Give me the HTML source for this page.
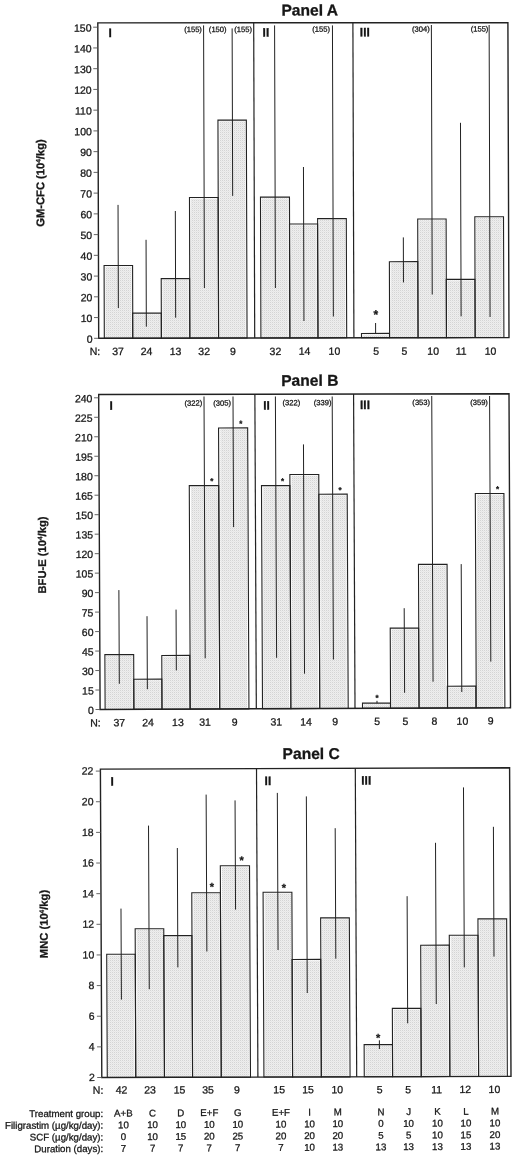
<!DOCTYPE html>
<html lang="en">
<head>
<meta charset="utf-8">
<title>Panels A, B, C</title>
<style>
html,body{margin:0;padding:0;background:#fff;}
body{width:520px;height:1161px;overflow:hidden;}
svg{display:block;}
text{font-family:"Liberation Sans",Arial,Helvetica,sans-serif;fill:#161616;stroke:#161616;stroke-width:0.28;}
</style>
</head>
<body>
<svg width="520" height="1161" viewBox="0 0 520 1161">
<defs>
<pattern id="stip" width="2" height="2" patternUnits="userSpaceOnUse">
<rect width="2" height="2" fill="#eeeeee"/>
<rect width="1" height="1" fill="#d4d4d4"/>
<rect x="1" y="1" width="1" height="1" fill="#e6e6e6"/>
</pattern>
</defs>
<rect width="520" height="1161" fill="#ffffff"/>
<rect x="105.4" y="266.66" width="26.1" height="71.3" fill="url(#stip)"/>
<polygon points="104.08,265.49 132.58,265.44 132.82,338.23 104.32,338.29" fill="none" stroke="#222222" stroke-width="1.1"/>
<rect x="133.9" y="314.31" width="26.2" height="23.6" fill="url(#stip)"/>
<polygon points="132.66,313.14 161.26,313.08 161.34,338.18 132.74,338.23" fill="none" stroke="#222222" stroke-width="1.1"/>
<rect x="162.5" y="279.83" width="26" height="58.02" fill="url(#stip)"/>
<polygon points="161.21,278.65 189.61,278.6 189.79,338.12 161.39,338.18" fill="none" stroke="#222222" stroke-width="1.1"/>
<rect x="190.9" y="198.68" width="26.2" height="139.12" fill="url(#stip)"/>
<polygon points="189.48,197.51 218.08,197.45 218.52,338.07 189.92,338.12" fill="none" stroke="#222222" stroke-width="1.1"/>
<rect x="219.5" y="121.26" width="26" height="216.48" fill="url(#stip)"/>
<polygon points="217.95,120.09 246.35,120.03 247.05,338.01 218.65,338.07" fill="none" stroke="#222222" stroke-width="1.1"/>
<rect x="261.9" y="198.33" width="26.6" height="139.32" fill="url(#stip)"/>
<polygon points="260.48,197.16 289.48,197.1 289.92,337.93 260.92,337.98" fill="none" stroke="#222222" stroke-width="1.1"/>
<rect x="290.9" y="225.24" width="25.7" height="112.36" fill="url(#stip)"/>
<polygon points="289.52,224.06 317.62,224.01 317.98,337.87 289.88,337.93" fill="none" stroke="#222222" stroke-width="1.1"/>
<rect x="319" y="219.79" width="26.3" height="117.75" fill="url(#stip)"/>
<polygon points="317.61,218.62 346.31,218.56 346.69,337.82 317.99,337.87" fill="none" stroke="#222222" stroke-width="1.1"/>
<rect x="362.7" y="334.6" width="25.6" height="2.86" fill="url(#stip)"/>
<polygon points="361.49,333.43 389.49,333.38 389.51,337.73 361.51,337.79" fill="none" stroke="#222222" stroke-width="1.1"/>
<rect x="390.7" y="262.87" width="26" height="74.53" fill="url(#stip)"/>
<polygon points="389.38,261.7 417.78,261.64 418.02,337.68 389.62,337.73" fill="none" stroke="#222222" stroke-width="1.1"/>
<rect x="419.1" y="220.22" width="26" height="117.13" fill="url(#stip)"/>
<polygon points="417.71,219.04 446.11,218.99 446.49,337.62 418.09,337.68" fill="none" stroke="#222222" stroke-width="1.1"/>
<rect x="447.5" y="280.51" width="26.3" height="56.78" fill="url(#stip)"/>
<polygon points="446.21,279.34 474.91,279.29 475.09,337.57 446.39,337.62" fill="none" stroke="#222222" stroke-width="1.1"/>
<rect x="476.2" y="217.93" width="26.3" height="119.31" fill="url(#stip)"/>
<polygon points="474.81,216.76 503.51,216.7 503.89,337.51 475.19,337.57" fill="none" stroke="#222222" stroke-width="1.1"/>
<line x1="118.04" y1="204.9" x2="118.36" y2="308" stroke="#222222" stroke-width="1"/>
<line x1="146.06" y1="239.8" x2="146.34" y2="326.7" stroke="#222222" stroke-width="1"/>
<line x1="175.33" y1="211" x2="175.67" y2="317.7" stroke="#222222" stroke-width="1"/>
<line x1="203.58" y1="25.4" x2="204.42" y2="288" stroke="#222222" stroke-width="1"/>
<line x1="232.13" y1="28.4" x2="232.67" y2="195.9" stroke="#222222" stroke-width="1"/>
<line x1="274.58" y1="25.4" x2="275.42" y2="288" stroke="#222222" stroke-width="1"/>
<line x1="303.46" y1="167" x2="303.94" y2="321" stroke="#222222" stroke-width="1"/>
<line x1="332.44" y1="25.4" x2="333.36" y2="316.5" stroke="#222222" stroke-width="1"/>
<line x1="375.58" y1="323" x2="375.62" y2="333.5" stroke="#222222" stroke-width="1"/>
<line x1="403.33" y1="237.4" x2="403.47" y2="282.4" stroke="#222222" stroke-width="1"/>
<line x1="431.37" y1="25" x2="432.23" y2="294.5" stroke="#222222" stroke-width="1"/>
<line x1="460.49" y1="122.8" x2="461.11" y2="316.3" stroke="#222222" stroke-width="1"/>
<line x1="489.14" y1="25" x2="490.06" y2="317" stroke="#222222" stroke-width="1"/>
<line x1="253.7" y1="22.82" x2="254.7" y2="338" stroke="#222222" stroke-width="1.2"/>
<line x1="352.9" y1="22.78" x2="353.9" y2="337.8" stroke="#222222" stroke-width="1.2"/>
<polygon points="97.8,22.9 507.9,22.7 509,337.5 98.7,338.3" fill="none" stroke="#222222" stroke-width="1.4"/>
<line x1="94.1" y1="338.3" x2="98.7" y2="338.3" stroke="#555" stroke-width="0.9"/>
<line x1="94.03" y1="317.56" x2="98.63" y2="317.56" stroke="#555" stroke-width="0.9"/>
<line x1="93.97" y1="296.82" x2="98.57" y2="296.82" stroke="#555" stroke-width="0.9"/>
<line x1="93.9" y1="276.08" x2="98.5" y2="276.08" stroke="#555" stroke-width="0.9"/>
<line x1="93.84" y1="255.34" x2="98.44" y2="255.34" stroke="#555" stroke-width="0.9"/>
<line x1="93.77" y1="234.6" x2="98.37" y2="234.6" stroke="#555" stroke-width="0.9"/>
<line x1="93.71" y1="213.86" x2="98.31" y2="213.86" stroke="#555" stroke-width="0.9"/>
<line x1="93.64" y1="193.12" x2="98.24" y2="193.12" stroke="#555" stroke-width="0.9"/>
<line x1="93.57" y1="172.38" x2="98.17" y2="172.38" stroke="#555" stroke-width="0.9"/>
<line x1="93.51" y1="151.64" x2="98.11" y2="151.64" stroke="#555" stroke-width="0.9"/>
<line x1="93.44" y1="130.9" x2="98.04" y2="130.9" stroke="#555" stroke-width="0.9"/>
<line x1="93.38" y1="110.16" x2="97.98" y2="110.16" stroke="#555" stroke-width="0.9"/>
<line x1="93.31" y1="89.42" x2="97.91" y2="89.42" stroke="#555" stroke-width="0.9"/>
<line x1="93.24" y1="68.68" x2="97.84" y2="68.68" stroke="#555" stroke-width="0.9"/>
<line x1="93.18" y1="47.94" x2="97.78" y2="47.94" stroke="#555" stroke-width="0.9"/>
<line x1="93.11" y1="27.2" x2="97.71" y2="27.2" stroke="#555" stroke-width="0.9"/>
<rect x="106.2" y="655.81" width="26.4" height="53.31" fill="url(#stip)"/>
<polygon points="104.87,654.67 133.67,654.55 133.93,709.35 105.13,709.48" fill="none" stroke="#222222" stroke-width="1.1"/>
<rect x="135" y="680.36" width="25.7" height="28.63" fill="url(#stip)"/>
<polygon points="133.73,679.22 161.83,679.1 161.97,709.23 133.87,709.35" fill="none" stroke="#222222" stroke-width="1.1"/>
<rect x="163.1" y="656.6" width="25.5" height="52.27" fill="url(#stip)"/>
<polygon points="161.78,655.46 189.68,655.34 189.92,709.11 162.02,709.23" fill="none" stroke="#222222" stroke-width="1.1"/>
<rect x="191" y="486.8" width="27" height="221.94" fill="url(#stip)"/>
<polygon points="189.28,485.67 218.68,485.54 219.72,708.98 190.32,709.11" fill="none" stroke="#222222" stroke-width="1.1"/>
<rect x="220.4" y="429.08" width="26.7" height="279.54" fill="url(#stip)"/>
<polygon points="218.55,427.94 247.65,427.81 248.95,708.85 219.85,708.98" fill="none" stroke="#222222" stroke-width="1.1"/>
<rect x="263.2" y="486.81" width="26" height="221.62" fill="url(#stip)"/>
<polygon points="261.49,485.67 289.89,485.55 290.91,708.67 262.51,708.79" fill="none" stroke="#222222" stroke-width="1.1"/>
<rect x="291.6" y="475.7" width="26.5" height="232.6" fill="url(#stip)"/>
<polygon points="289.86,474.56 318.76,474.43 319.84,708.54 290.94,708.67" fill="none" stroke="#222222" stroke-width="1.1"/>
<rect x="320.5" y="495.39" width="26" height="212.79" fill="url(#stip)"/>
<polygon points="318.81,494.25 347.21,494.13 348.19,708.41 319.79,708.54" fill="none" stroke="#222222" stroke-width="1.1"/>
<rect x="363.7" y="704.29" width="25.5" height="3.69" fill="url(#stip)"/>
<polygon points="362.49,703.15 390.39,703.03 390.41,708.23 362.51,708.35" fill="none" stroke="#222222" stroke-width="1.1"/>
<rect x="391.6" y="629.23" width="26" height="78.63" fill="url(#stip)"/>
<polygon points="390.22,628.1 418.62,627.97 418.98,708.1 390.58,708.23" fill="none" stroke="#222222" stroke-width="1.1"/>
<rect x="420" y="565.47" width="26.2" height="142.27" fill="url(#stip)"/>
<polygon points="418.47,564.34 447.07,564.21 447.73,707.98 419.13,708.1" fill="none" stroke="#222222" stroke-width="1.1"/>
<rect x="448.6" y="687.43" width="26" height="20.19" fill="url(#stip)"/>
<polygon points="447.35,686.29 475.75,686.16 475.85,707.85 447.45,707.98" fill="none" stroke="#222222" stroke-width="1.1"/>
<rect x="477" y="494.7" width="26.2" height="212.79" fill="url(#stip)"/>
<polygon points="475.31,493.57 503.91,493.44 504.89,707.73 476.29,707.85" fill="none" stroke="#222222" stroke-width="1.1"/>
<line x1="118.88" y1="590.1" x2="119.32" y2="683.8" stroke="#222222" stroke-width="1"/>
<line x1="147.03" y1="616.2" x2="147.37" y2="689.2" stroke="#222222" stroke-width="1"/>
<line x1="176.06" y1="609.6" x2="176.34" y2="670.4" stroke="#222222" stroke-width="1"/>
<line x1="204" y1="396.5" x2="205.2" y2="658.3" stroke="#222222" stroke-width="1"/>
<line x1="233" y1="396.5" x2="233.6" y2="527.1" stroke="#222222" stroke-width="1"/>
<line x1="275.4" y1="396.5" x2="276.6" y2="657.8" stroke="#222222" stroke-width="1"/>
<line x1="303.47" y1="444.4" x2="304.53" y2="673.7" stroke="#222222" stroke-width="1"/>
<line x1="332.19" y1="396.5" x2="333.41" y2="659.5" stroke="#222222" stroke-width="1"/>
<line x1="376.99" y1="700.8" x2="377.01" y2="703.2" stroke="#222222" stroke-width="1"/>
<line x1="404.2" y1="608.2" x2="404.6" y2="692.8" stroke="#222222" stroke-width="1"/>
<line x1="431.74" y1="396" x2="433.06" y2="681.7" stroke="#222222" stroke-width="1"/>
<line x1="461.21" y1="564.1" x2="461.79" y2="692" stroke="#222222" stroke-width="1"/>
<line x1="489.59" y1="396" x2="490.81" y2="661.6" stroke="#222222" stroke-width="1"/>
<line x1="254.87" y1="394.19" x2="256.33" y2="708.82" stroke="#222222" stroke-width="1.2"/>
<line x1="353.58" y1="394" x2="355.02" y2="708.39" stroke="#222222" stroke-width="1.2"/>
<polygon points="98.7,394.5 509,393.7 510.5,707.7 100.1,709.5" fill="none" stroke="#222222" stroke-width="1.4"/>
<line x1="95.5" y1="709.5" x2="100.1" y2="709.5" stroke="#555" stroke-width="0.9"/>
<line x1="95.41" y1="690.02" x2="100.01" y2="690.02" stroke="#555" stroke-width="0.9"/>
<line x1="95.32" y1="670.54" x2="99.92" y2="670.54" stroke="#555" stroke-width="0.9"/>
<line x1="95.23" y1="651.06" x2="99.83" y2="651.06" stroke="#555" stroke-width="0.9"/>
<line x1="95.14" y1="631.58" x2="99.74" y2="631.58" stroke="#555" stroke-width="0.9"/>
<line x1="95.05" y1="612.1" x2="99.65" y2="612.1" stroke="#555" stroke-width="0.9"/>
<line x1="94.96" y1="592.62" x2="99.56" y2="592.62" stroke="#555" stroke-width="0.9"/>
<line x1="94.87" y1="573.14" x2="99.47" y2="573.14" stroke="#555" stroke-width="0.9"/>
<line x1="94.78" y1="553.66" x2="99.38" y2="553.66" stroke="#555" stroke-width="0.9"/>
<line x1="94.69" y1="534.18" x2="99.29" y2="534.18" stroke="#555" stroke-width="0.9"/>
<line x1="94.6" y1="514.69" x2="99.2" y2="514.69" stroke="#555" stroke-width="0.9"/>
<line x1="94.51" y1="495.21" x2="99.11" y2="495.21" stroke="#555" stroke-width="0.9"/>
<line x1="94.42" y1="475.73" x2="99.02" y2="475.73" stroke="#555" stroke-width="0.9"/>
<line x1="94.33" y1="456.25" x2="98.93" y2="456.25" stroke="#555" stroke-width="0.9"/>
<line x1="94.24" y1="436.77" x2="98.84" y2="436.77" stroke="#555" stroke-width="0.9"/>
<line x1="94.15" y1="417.29" x2="98.75" y2="417.29" stroke="#555" stroke-width="0.9"/>
<line x1="94.06" y1="397.81" x2="98.66" y2="397.81" stroke="#555" stroke-width="0.9"/>
<rect x="108.2" y="955.47" width="26.1" height="121.67" fill="url(#stip)"/>
<polygon points="106.72,954.31 135.22,954.24 135.78,1077.41 107.28,1077.49" fill="none" stroke="#222222" stroke-width="1.1"/>
<rect x="136.7" y="929.97" width="26.2" height="147.1" fill="url(#stip)"/>
<polygon points="135.16,928.81 163.76,928.73 164.44,1077.33 135.84,1077.41" fill="none" stroke="#222222" stroke-width="1.1"/>
<rect x="165.3" y="936.78" width="25.7" height="140.21" fill="url(#stip)"/>
<polygon points="163.78,935.62 191.88,935.55 192.52,1077.26 164.42,1077.33" fill="none" stroke="#222222" stroke-width="1.1"/>
<rect x="193.4" y="893.97" width="26.2" height="182.95" fill="url(#stip)"/>
<polygon points="191.78,892.8 220.38,892.73 221.22,1077.18 192.62,1077.26" fill="none" stroke="#222222" stroke-width="1.1"/>
<rect x="222" y="866.92" width="26.8" height="209.92" fill="url(#stip)"/>
<polygon points="220.32,865.76 249.52,865.69 250.48,1077.1 221.28,1077.18" fill="none" stroke="#222222" stroke-width="1.1"/>
<rect x="264.7" y="893.47" width="26.4" height="183.26" fill="url(#stip)"/>
<polygon points="263.08,892.31 291.88,892.23 292.72,1076.99 263.92,1077.07" fill="none" stroke="#222222" stroke-width="1.1"/>
<rect x="293.5" y="960.64" width="26.3" height="116" fill="url(#stip)"/>
<polygon points="292.03,959.48 320.73,959.41 321.27,1076.91 292.57,1076.99" fill="none" stroke="#222222" stroke-width="1.1"/>
<rect x="322.2" y="919.05" width="26.3" height="157.52" fill="url(#stip)"/>
<polygon points="320.64,917.89 349.34,917.81 350.06,1076.83 321.36,1076.91" fill="none" stroke="#222222" stroke-width="1.1"/>
<rect x="365.4" y="1045.78" width="25.9" height="30.67" fill="url(#stip)"/>
<polygon points="364.13,1044.62 392.43,1044.55 392.57,1076.72 364.27,1076.79" fill="none" stroke="#222222" stroke-width="1.1"/>
<rect x="393.7" y="1009.55" width="26.1" height="66.83" fill="url(#stip)"/>
<polygon points="392.34,1008.39 420.84,1008.31 421.16,1076.64 392.66,1076.72" fill="none" stroke="#222222" stroke-width="1.1"/>
<rect x="422.2" y="946.36" width="26.2" height="129.95" fill="url(#stip)"/>
<polygon points="420.7,945.2 449.3,945.12 449.9,1076.57 421.3,1076.64" fill="none" stroke="#222222" stroke-width="1.1"/>
<rect x="450.8" y="936.48" width="26.3" height="139.75" fill="url(#stip)"/>
<polygon points="449.28,935.31 477.98,935.24 478.62,1076.49 449.92,1076.57" fill="none" stroke="#222222" stroke-width="1.1"/>
<rect x="479.5" y="920.01" width="26.3" height="156.14" fill="url(#stip)"/>
<polygon points="477.94,918.85 506.64,918.77 507.36,1076.41 478.66,1076.49" fill="none" stroke="#222222" stroke-width="1.1"/>
<line x1="120.99" y1="908.6" x2="121.41" y2="999.6" stroke="#222222" stroke-width="1"/>
<line x1="148.53" y1="825.6" x2="149.27" y2="989.2" stroke="#222222" stroke-width="1"/>
<line x1="177.33" y1="848" x2="177.87" y2="967.4" stroke="#222222" stroke-width="1"/>
<line x1="206.14" y1="794.6" x2="206.86" y2="951.5" stroke="#222222" stroke-width="1"/>
<line x1="235.05" y1="800.4" x2="235.55" y2="909.6" stroke="#222222" stroke-width="1"/>
<line x1="277.34" y1="792.9" x2="278.06" y2="950" stroke="#222222" stroke-width="1"/>
<line x1="306.35" y1="796.4" x2="307.25" y2="993" stroke="#222222" stroke-width="1"/>
<line x1="335.2" y1="828.2" x2="335.8" y2="958.7" stroke="#222222" stroke-width="1"/>
<line x1="379.38" y1="1040.3" x2="379.42" y2="1049" stroke="#222222" stroke-width="1"/>
<line x1="407.11" y1="896.2" x2="407.69" y2="1023.3" stroke="#222222" stroke-width="1"/>
<line x1="435.53" y1="842.8" x2="436.27" y2="1004" stroke="#222222" stroke-width="1"/>
<line x1="463.49" y1="787.4" x2="464.31" y2="967.4" stroke="#222222" stroke-width="1"/>
<line x1="493.41" y1="826.8" x2="493.99" y2="956.6" stroke="#222222" stroke-width="1"/>
<line x1="256.5" y1="768.6" x2="257.9" y2="1077.08" stroke="#222222" stroke-width="1.2"/>
<line x1="355.3" y1="768.29" x2="356.7" y2="1076.82" stroke="#222222" stroke-width="1.2"/>
<polygon points="100.4,769.1 509.6,767.8 511,1076.4 101.8,1077.5" fill="none" stroke="#222222" stroke-width="1.4"/>
<line x1="97.2" y1="1077.5" x2="101.8" y2="1077.5" stroke="#555" stroke-width="0.9"/>
<line x1="97.06" y1="1046.86" x2="101.66" y2="1046.86" stroke="#555" stroke-width="0.9"/>
<line x1="96.92" y1="1016.22" x2="101.52" y2="1016.22" stroke="#555" stroke-width="0.9"/>
<line x1="96.78" y1="985.58" x2="101.38" y2="985.58" stroke="#555" stroke-width="0.9"/>
<line x1="96.64" y1="954.94" x2="101.24" y2="954.94" stroke="#555" stroke-width="0.9"/>
<line x1="96.5" y1="924.3" x2="101.1" y2="924.3" stroke="#555" stroke-width="0.9"/>
<line x1="96.37" y1="893.66" x2="100.97" y2="893.66" stroke="#555" stroke-width="0.9"/>
<line x1="96.23" y1="863.02" x2="100.83" y2="863.02" stroke="#555" stroke-width="0.9"/>
<line x1="96.09" y1="832.38" x2="100.69" y2="832.38" stroke="#555" stroke-width="0.9"/>
<line x1="95.95" y1="801.74" x2="100.55" y2="801.74" stroke="#555" stroke-width="0.9"/>
<line x1="95.81" y1="771.1" x2="100.41" y2="771.1" stroke="#555" stroke-width="0.9"/>
<g transform="rotate(-0.16 260 580)">
<text x="311.28" y="15.64" font-size="15.6" text-anchor="middle" font-weight="bold" stroke-width="0.12">Panel A</text>
<text x="93.16" y="342.23" font-size="10.5" text-anchor="end">0</text>
<text x="93.16" y="321.49" font-size="10.5" text-anchor="end">10</text>
<text x="93.15" y="300.75" font-size="10.5" text-anchor="end">20</text>
<text x="93.14" y="280.01" font-size="10.5" text-anchor="end">30</text>
<text x="93.13" y="259.27" font-size="10.5" text-anchor="end">40</text>
<text x="93.12" y="238.53" font-size="10.5" text-anchor="end">50</text>
<text x="93.12" y="217.79" font-size="10.5" text-anchor="end">60</text>
<text x="93.11" y="197.05" font-size="10.5" text-anchor="end">70</text>
<text x="93.1" y="176.31" font-size="10.5" text-anchor="end">80</text>
<text x="93.09" y="155.57" font-size="10.5" text-anchor="end">90</text>
<text x="93.08" y="134.83" font-size="10.5" text-anchor="end">100</text>
<text x="93.08" y="114.09" font-size="10.5" text-anchor="end">110</text>
<text x="93.07" y="93.35" font-size="10.5" text-anchor="end">120</text>
<text x="93.06" y="72.61" font-size="10.5" text-anchor="end">130</text>
<text x="93.05" y="51.87" font-size="10.5" text-anchor="end">140</text>
<text x="93.04" y="31.13" font-size="10.5" text-anchor="end">150</text>
<text x="110.12" y="36.58" font-size="12" font-weight="bold" stroke-width="0.12">I</text>
<text x="264.12" y="36.61" font-size="12" font-weight="bold" stroke-width="0.12">II</text>
<text x="361.32" y="36.48" font-size="12" font-weight="bold" stroke-width="0.12">III</text>
<text x="203.43" y="31.84" font-size="7.6" text-anchor="end">(155)</text>
<text x="228.13" y="31.91" font-size="7.6" text-anchor="end">(150)</text>
<text x="253.53" y="31.98" font-size="7.6" text-anchor="end">(155)</text>
<text x="331.53" y="32" font-size="7.6" text-anchor="end">(155)</text>
<text x="431.33" y="32.08" font-size="7.6" text-anchor="end">(304)</text>
<text x="489.93" y="32.14" font-size="7.6" text-anchor="end">(155)</text>
<text x="376.53" y="318.82" font-size="12" text-anchor="middle" font-weight="bold" stroke-width="0.7">*</text>
<text x="100.83" y="354.62" font-size="10.5" text-anchor="end">N:</text>
<text x="118.73" y="354.65" font-size="10.5" text-anchor="middle">37</text>
<text x="147.23" y="354.7" font-size="10.5" text-anchor="middle">24</text>
<text x="176.13" y="354.75" font-size="10.5" text-anchor="middle">13</text>
<text x="204.83" y="354.8" font-size="10.5" text-anchor="middle">32</text>
<text x="233.63" y="354.85" font-size="10.5" text-anchor="middle">9</text>
<text x="276.03" y="354.93" font-size="10.5" text-anchor="middle">32</text>
<text x="305.13" y="354.98" font-size="10.5" text-anchor="middle">14</text>
<text x="335.03" y="355.03" font-size="10.5" text-anchor="middle">10</text>
<text x="376.83" y="355.11" font-size="10.5" text-anchor="middle">5</text>
<text x="405.13" y="355.16" font-size="10.5" text-anchor="middle">5</text>
<text x="433.83" y="355.21" font-size="10.5" text-anchor="middle">10</text>
<text x="461.83" y="355.26" font-size="10.5" text-anchor="middle">11</text>
<text x="491.13" y="355.31" font-size="10.5" text-anchor="middle">10</text>
<text transform="translate(45.31 182.4) rotate(-90)" font-size="11.2" font-weight="bold" stroke-width="0.12" text-anchor="middle">GM-CFC (10<tspan font-size="6.5" dy="-3.6">4</tspan><tspan dy="3.6">/kg)</tspan></text>
<text x="310.34" y="385.94" font-size="15.6" text-anchor="middle" font-weight="bold" stroke-width="0.12">Panel B</text>
<text x="93.53" y="713.44" font-size="10.5" text-anchor="end">0</text>
<text x="93.49" y="693.95" font-size="10.5" text-anchor="end">15</text>
<text x="93.46" y="674.47" font-size="10.5" text-anchor="end">30</text>
<text x="93.42" y="654.99" font-size="10.5" text-anchor="end">45</text>
<text x="93.39" y="635.51" font-size="10.5" text-anchor="end">60</text>
<text x="93.35" y="616.03" font-size="10.5" text-anchor="end">75</text>
<text x="93.31" y="596.55" font-size="10.5" text-anchor="end">90</text>
<text x="93.28" y="577.07" font-size="10.5" text-anchor="end">105</text>
<text x="93.24" y="557.59" font-size="10.5" text-anchor="end">120</text>
<text x="93.21" y="538.11" font-size="10.5" text-anchor="end">135</text>
<text x="93.17" y="518.63" font-size="10.5" text-anchor="end">150</text>
<text x="93.14" y="499.15" font-size="10.5" text-anchor="end">165</text>
<text x="93.1" y="479.67" font-size="10.5" text-anchor="end">180</text>
<text x="93.07" y="460.19" font-size="10.5" text-anchor="end">195</text>
<text x="93.03" y="440.71" font-size="10.5" text-anchor="end">210</text>
<text x="93" y="421.23" font-size="10.5" text-anchor="end">225</text>
<text x="92.96" y="401.74" font-size="10.5" text-anchor="end">240</text>
<text x="109.88" y="409.38" font-size="12" font-weight="bold" stroke-width="0.12">I</text>
<text x="263.78" y="409.41" font-size="12" font-weight="bold" stroke-width="0.12">II</text>
<text x="360.48" y="409.28" font-size="12" font-weight="bold" stroke-width="0.12">III</text>
<text x="202.79" y="405.44" font-size="7.6" text-anchor="end">(322)</text>
<text x="231.49" y="405.52" font-size="7.6" text-anchor="end">(305)</text>
<text x="300.79" y="405.41" font-size="7.6" text-anchor="end">(322)</text>
<text x="331.99" y="405.5" font-size="7.6" text-anchor="end">(339)</text>
<text x="430.59" y="405.48" font-size="7.6" text-anchor="end">(353)</text>
<text x="488.39" y="405.64" font-size="7.6" text-anchor="end">(359)</text>
<text x="212.17" y="483.67" font-size="8" text-anchor="middle" font-weight="bold" stroke-width="0.7">*</text>
<text x="241.23" y="426.25" font-size="8" text-anchor="middle" font-weight="bold" stroke-width="0.7">*</text>
<text x="282.87" y="483.86" font-size="8" text-anchor="middle" font-weight="bold" stroke-width="0.7">*</text>
<text x="340.24" y="493.02" font-size="8" text-anchor="middle" font-weight="bold" stroke-width="0.7">*</text>
<text x="376.66" y="700.73" font-size="8" text-anchor="middle" font-weight="bold" stroke-width="0.7">*</text>
<text x="497.75" y="492.46" font-size="8" text-anchor="middle" font-weight="bold" stroke-width="0.7">*</text>
<text x="100.29" y="725.91" font-size="10.5" text-anchor="end">N:</text>
<text x="118.89" y="725.85" font-size="10.5" text-anchor="middle">37</text>
<text x="147.59" y="725.8" font-size="10.5" text-anchor="middle">24</text>
<text x="177.49" y="725.75" font-size="10.5" text-anchor="middle">13</text>
<text x="204.59" y="725.7" font-size="10.5" text-anchor="middle">31</text>
<text x="234.19" y="725.65" font-size="10.5" text-anchor="middle">9</text>
<text x="275.89" y="725.57" font-size="10.5" text-anchor="middle">31</text>
<text x="305.59" y="725.52" font-size="10.5" text-anchor="middle">14</text>
<text x="334.79" y="725.46" font-size="10.5" text-anchor="middle">9</text>
<text x="376.79" y="725.39" font-size="10.5" text-anchor="middle">5</text>
<text x="404.99" y="725.34" font-size="10.5" text-anchor="middle">5</text>
<text x="434.09" y="725.28" font-size="10.5" text-anchor="middle">8</text>
<text x="462" y="725.23" font-size="10.5" text-anchor="middle">10</text>
<text x="490.4" y="725.18" font-size="10.5" text-anchor="middle">9</text>
<text transform="translate(46.07 554.4) rotate(-90)" font-size="11.2" font-weight="bold" stroke-width="0.12" text-anchor="middle">BFU-E (10<tspan font-size="6.5" dy="-3.6">4</tspan><tspan dy="3.6">/kg)</tspan></text>
<text x="310.7" y="759.14" font-size="15.6" text-anchor="middle" font-weight="bold" stroke-width="0.12">Panel C</text>
<text x="93.4" y="1080.54" font-size="10.5" text-anchor="end">2</text>
<text x="93.35" y="1049.9" font-size="10.5" text-anchor="end">4</text>
<text x="93.29" y="1019.26" font-size="10.5" text-anchor="end">6</text>
<text x="93.24" y="988.62" font-size="10.5" text-anchor="end">8</text>
<text x="93.19" y="957.98" font-size="10.5" text-anchor="end">10</text>
<text x="93.13" y="927.34" font-size="10.5" text-anchor="end">12</text>
<text x="93.08" y="896.7" font-size="10.5" text-anchor="end">14</text>
<text x="93.03" y="866.05" font-size="10.5" text-anchor="end">16</text>
<text x="92.97" y="835.41" font-size="10.5" text-anchor="end">18</text>
<text x="92.92" y="804.77" font-size="10.5" text-anchor="end">20</text>
<text x="92.87" y="774.13" font-size="10.5" text-anchor="end">22</text>
<text x="110.03" y="784.98" font-size="12" font-weight="bold" stroke-width="0.12">I</text>
<text x="264.03" y="785.01" font-size="12" font-weight="bold" stroke-width="0.12">II</text>
<text x="360.73" y="784.88" font-size="12" font-weight="bold" stroke-width="0.12">III</text>
<text x="211.03" y="890.36" font-size="11" text-anchor="middle" font-weight="bold" stroke-width="0.7">*</text>
<text x="240.81" y="863.95" font-size="11" text-anchor="middle" font-weight="bold" stroke-width="0.7">*</text>
<text x="283.13" y="891.57" font-size="11" text-anchor="middle" font-weight="bold" stroke-width="0.7">*</text>
<text x="376.91" y="1041.83" font-size="11" text-anchor="middle" font-weight="bold" stroke-width="0.7">*</text>
<text x="101.87" y="1093.21" font-size="10.5" text-anchor="end">N:</text>
<text x="120.07" y="1093.22" font-size="10.5" text-anchor="middle">42</text>
<text x="148.67" y="1093.26" font-size="10.5" text-anchor="middle">23</text>
<text x="178.07" y="1093.29" font-size="10.5" text-anchor="middle">15</text>
<text x="206.67" y="1093.33" font-size="10.5" text-anchor="middle">35</text>
<text x="235.47" y="1093.37" font-size="10.5" text-anchor="middle">9</text>
<text x="277.77" y="1093.42" font-size="10.5" text-anchor="middle">15</text>
<text x="306.57" y="1093.46" font-size="10.5" text-anchor="middle">15</text>
<text x="335.87" y="1093.5" font-size="10.5" text-anchor="middle">10</text>
<text x="378.37" y="1093.55" font-size="10.5" text-anchor="middle">5</text>
<text x="406.77" y="1093.59" font-size="10.5" text-anchor="middle">5</text>
<text x="435.17" y="1093.63" font-size="10.5" text-anchor="middle">11</text>
<text x="463.87" y="1093.66" font-size="10.5" text-anchor="middle">12</text>
<text x="492.97" y="1093.7" font-size="10.5" text-anchor="middle">10</text>
<text transform="translate(46.74 923.41) rotate(-90)" font-size="11.2" font-weight="bold" stroke-width="0.12" text-anchor="middle">MNC (10<tspan font-size="6.5" dy="-3.6">4</tspan><tspan dy="3.6">/kg)</tspan></text>
<text x="101.7" y="1116.46" font-size="9.7" text-anchor="end">Treatment group:</text>
<text x="121.9" y="1116.17" font-size="9.7" text-anchor="middle">A+B</text>
<text x="151.1" y="1116.09" font-size="9.7" text-anchor="middle">C</text>
<text x="179.3" y="1116.01" font-size="9.7" text-anchor="middle">D</text>
<text x="207.8" y="1115.94" font-size="9.7" text-anchor="middle">E+F</text>
<text x="236.3" y="1115.86" font-size="9.7" text-anchor="middle">G</text>
<text x="279.5" y="1115.74" font-size="9.7" text-anchor="middle">E+F</text>
<text x="308.1" y="1115.66" font-size="9.7" text-anchor="middle">I</text>
<text x="336.3" y="1115.59" font-size="9.7" text-anchor="middle">M</text>
<text x="379.51" y="1115.47" font-size="9.7" text-anchor="middle">N</text>
<text x="407.11" y="1115.4" font-size="9.7" text-anchor="middle">J</text>
<text x="436.01" y="1115.32" font-size="9.7" text-anchor="middle">K</text>
<text x="464.51" y="1115.24" font-size="9.7" text-anchor="middle">L</text>
<text x="493.51" y="1115.16" font-size="9.7" text-anchor="middle">M</text>
<text x="101.67" y="1128.16" font-size="9.7" text-anchor="end">Filigrastim (µg/kg/day):</text>
<text x="121.87" y="1127.87" font-size="9.7" text-anchor="middle">10</text>
<text x="151.07" y="1127.79" font-size="9.7" text-anchor="middle">10</text>
<text x="179.27" y="1127.71" font-size="9.7" text-anchor="middle">10</text>
<text x="207.77" y="1127.64" font-size="9.7" text-anchor="middle">10</text>
<text x="236.27" y="1127.56" font-size="9.7" text-anchor="middle">10</text>
<text x="279.47" y="1127.44" font-size="9.7" text-anchor="middle">10</text>
<text x="308.07" y="1127.36" font-size="9.7" text-anchor="middle">10</text>
<text x="336.27" y="1127.29" font-size="9.7" text-anchor="middle">10</text>
<text x="379.47" y="1127.17" font-size="9.7" text-anchor="middle">0</text>
<text x="407.07" y="1127.1" font-size="9.7" text-anchor="middle">10</text>
<text x="435.97" y="1127.02" font-size="9.7" text-anchor="middle">10</text>
<text x="464.47" y="1126.94" font-size="9.7" text-anchor="middle">10</text>
<text x="493.47" y="1126.86" font-size="9.7" text-anchor="middle">10</text>
<text x="101.64" y="1139.96" font-size="9.7" text-anchor="end">SCF (µg/kg/day):</text>
<text x="121.84" y="1139.67" font-size="9.7" text-anchor="middle">0</text>
<text x="151.04" y="1139.59" font-size="9.7" text-anchor="middle">10</text>
<text x="179.24" y="1139.51" font-size="9.7" text-anchor="middle">15</text>
<text x="207.74" y="1139.44" font-size="9.7" text-anchor="middle">20</text>
<text x="236.24" y="1139.36" font-size="9.7" text-anchor="middle">25</text>
<text x="279.44" y="1139.24" font-size="9.7" text-anchor="middle">20</text>
<text x="308.04" y="1139.16" font-size="9.7" text-anchor="middle">20</text>
<text x="336.24" y="1139.09" font-size="9.7" text-anchor="middle">20</text>
<text x="379.44" y="1138.97" font-size="9.7" text-anchor="middle">5</text>
<text x="407.04" y="1138.9" font-size="9.7" text-anchor="middle">5</text>
<text x="435.94" y="1138.82" font-size="9.7" text-anchor="middle">10</text>
<text x="464.44" y="1138.74" font-size="9.7" text-anchor="middle">15</text>
<text x="493.44" y="1138.66" font-size="9.7" text-anchor="middle">20</text>
<text x="101.6" y="1151.56" font-size="9.7" text-anchor="end">Duration (days):</text>
<text x="121.8" y="1151.27" font-size="9.7" text-anchor="middle">7</text>
<text x="151" y="1151.19" font-size="9.7" text-anchor="middle">7</text>
<text x="179.2" y="1151.11" font-size="9.7" text-anchor="middle">7</text>
<text x="207.71" y="1151.04" font-size="9.7" text-anchor="middle">7</text>
<text x="236.21" y="1150.96" font-size="9.7" text-anchor="middle">7</text>
<text x="279.41" y="1150.84" font-size="9.7" text-anchor="middle">7</text>
<text x="308.01" y="1150.76" font-size="9.7" text-anchor="middle">10</text>
<text x="336.21" y="1150.69" font-size="9.7" text-anchor="middle">13</text>
<text x="379.41" y="1150.57" font-size="9.7" text-anchor="middle">13</text>
<text x="407.01" y="1150.5" font-size="9.7" text-anchor="middle">13</text>
<text x="435.91" y="1150.42" font-size="9.7" text-anchor="middle">13</text>
<text x="464.41" y="1150.34" font-size="9.7" text-anchor="middle">13</text>
<text x="493.41" y="1150.26" font-size="9.7" text-anchor="middle">13</text>
</g>
</svg>
</body>
</html>
